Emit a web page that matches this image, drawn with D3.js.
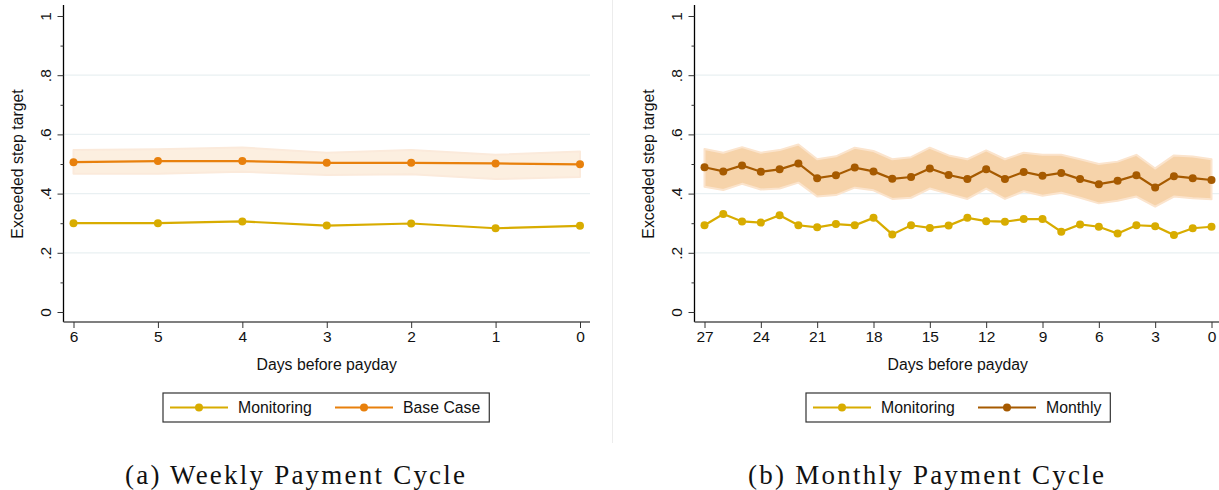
<!DOCTYPE html>
<meta charset="utf-8">
<style>
  body { margin: 0; background: #fff; }
  text { font-family: "Liberation Sans", Arial, sans-serif; fill: #111; }
  .caption { font-family: "Liberation Serif", "DejaVu Serif", serif; font-size: 27px; }
</style>
<body>
<script src="https://d3js.org/d3.v7.min.js"></script>
<script>
// ---- data ----
var weeklyDays = [6, 5, 4, 3, 2, 1, 0];
var weeklyMonitoring = [0.300, 0.300, 0.306, 0.292, 0.299, 0.283, 0.291];
var weeklyBase = [0.506, 0.510, 0.510, 0.504, 0.504, 0.502, 0.499];
var weeklyBaseHi = [0.547, 0.550, 0.556, 0.538, 0.547, 0.531, 0.542];
var weeklyBaseLo = [0.467, 0.467, 0.474, 0.463, 0.465, 0.449, 0.456];

var monthlyDays = [27, 26, 25, 24, 23, 22, 21, 20, 19, 18, 17, 16, 15, 14,
                   13, 12, 11, 10, 9, 8, 7, 6, 5, 4, 3, 2, 1, 0];
var monthlyMonitoring = [0.293, 0.331, 0.306, 0.302, 0.327, 0.293, 0.286, 0.297, 0.293, 0.318,
                         0.262, 0.293, 0.284, 0.292, 0.318, 0.307, 0.305, 0.314, 0.314, 0.271,
                         0.296, 0.288, 0.265, 0.293, 0.290, 0.260, 0.283, 0.288];
var monthlyMonthly = [0.489, 0.475, 0.495, 0.474, 0.482, 0.502, 0.452, 0.462, 0.488, 0.475,
                      0.450, 0.456, 0.485, 0.463, 0.449, 0.482, 0.449, 0.473, 0.460, 0.470,
                      0.449, 0.432, 0.443, 0.462, 0.421, 0.459, 0.452, 0.446];
var monthlyHi = [0.551, 0.538, 0.557, 0.538, 0.547, 0.566, 0.516, 0.526, 0.555, 0.544,
                 0.516, 0.523, 0.555, 0.529, 0.516, 0.546, 0.516, 0.538, 0.531, 0.531,
                 0.516, 0.500, 0.508, 0.531, 0.485, 0.529, 0.525, 0.516];
var monthlyLo = [0.423, 0.412, 0.433, 0.414, 0.417, 0.437, 0.390, 0.395, 0.420, 0.411,
                 0.382, 0.386, 0.417, 0.399, 0.382, 0.417, 0.382, 0.408, 0.393, 0.403,
                 0.386, 0.367, 0.376, 0.390, 0.356, 0.390, 0.384, 0.381];

var yTicks = [0, 0.2, 0.4, 0.6, 0.8, 1];
var weeklyTicks = [6, 5, 4, 3, 2, 1, 0];
var monthlyTicks = [27, 24, 21, 18, 15, 12, 9, 6, 3, 0];

var colMonitor = "#d8ac00";

var svg = d3.select("body").append("svg")
  .attr("width", 1219)
  .attr("height", 490);

// thin separator between the two sub-figures
svg.append("line")
  .attr("x1", 612.5).attr("x2", 612.5)
  .attr("y1", 0).attr("y2", 443)
  .attr("stroke", "#ececec");

function panel(o) {
  var g = svg.append("g");

  var x = d3.scaleLinear().domain([o.days[0], 0]).range([o.x0, o.x1]);
  var y = d3.scaleLinear().domain([0, 1]).range([312, 16]);

  // grid lines
  g.selectAll(".grid").data([0.2, 0.4, 0.6, 0.8]).enter().append("line")
    .attr("x1", o.axisX).attr("x2", o.axisEnd)
    .attr("y1", function(d) { return y(d); })
    .attr("y2", function(d) { return y(d); })
    .attr("stroke", "#e9f0f2").attr("stroke-width", 1.2);

  // y axis
  var yAxis = g.append("g")
    .attr("transform", "translate(" + o.axisX + ",0)")
    .call(d3.axisLeft(y).tickValues(yTicks).tickSize(6)
      .tickFormat(function(d) { return d === 0 || d === 1 ? String(d) : d3.format(".1f")(d).replace(/^0/, ""); }));
  yAxis.select(".domain").attr("d", "M0,5V322").attr("stroke", "#000").attr("stroke-width", 1.3);
  yAxis.selectAll(".tick line").attr("stroke", "#333");
  yAxis.selectAll(".tick text")
    .attr("x", null).attr("dy", null)
    .attr("transform", "translate(-18,0) rotate(-90)")
    .attr("text-anchor", "middle")
    .attr("dominant-baseline", "central")
    .style("font-size", "15.5px");
  // minor ticks
  g.append("g")
    .attr("transform", "translate(" + o.axisX + ",0)")
    .call(d3.axisLeft(y).tickValues([0.1, 0.3, 0.5, 0.7, 0.9]).tickSize(3).tickFormat(""))
    .call(function(s) { s.select(".domain").remove(); s.selectAll("line").attr("stroke", "#333"); });

  // x axis
  var xAxis = g.append("g")
    .attr("transform", "translate(0,322)")
    .call(d3.axisBottom(x).tickValues(o.ticks).tickSize(6).tickPadding(3).tickFormat(d3.format("d")));
  xAxis.select(".domain").attr("d", "M" + o.axisX + ",0H" + o.axisEnd).attr("stroke", "#555").attr("stroke-width", 1.3);
  xAxis.selectAll(".tick line").attr("stroke", "#333");
  xAxis.selectAll(".tick text").style("font-size", "15.5px");

  // axis titles
  g.append("text")
    .attr("transform", "translate(" + (o.axisX - 46) + "," + y(0.5) + ") rotate(-90)")
    .attr("text-anchor", "middle").attr("dominant-baseline", "central")
    .style("font-size", "15.8px")
    .text("Exceeded step target");
  g.append("text")
    .attr("x", (o.axisX + o.axisEnd) / 2).attr("y", 370)
    .attr("text-anchor", "middle")
    .style("font-size", "15.8px")
    .text("Days before payday");

  // confidence band
  var band = d3.area()
    .x(function(d, i) { return x(o.days[i]); })
    .y0(function(d, i) { return y(o.lo[i]); })
    .y1(function(d, i) { return y(o.hi[i]); });
  g.append("path")
    .datum(o.hi)
    .attr("d", band)
    .attr("fill", o.bandFill)
    .attr("stroke", o.bandEdge)
    .attr("stroke-width", 2)
    .attr("stroke-linejoin", "round");

  var line = d3.line()
    .x(function(d, i) { return x(o.days[i]); })
    .y(function(d) { return y(d); });

  [[o.monitor, colMonitor], [o.treat, o.treatColor]].forEach(function(s) {
    g.append("path")
      .datum(s[0])
      .attr("d", line)
      .attr("fill", "none")
      .attr("stroke", s[1])
      .attr("stroke-width", 2.2);
    g.selectAll(null).data(s[0]).enter().append("circle")
      .attr("cx", function(d, i) { return x(o.days[i]); })
      .attr("cy", function(d) { return y(d); })
      .attr("r", 4)
      .attr("fill", s[1]);
  });

  // legend
  var lg = g.append("g").attr("transform", "translate(" + o.legendX + ",393)");
  var box = lg.append("rect")
    .attr("width", 300).attr("height", 29)
    .attr("fill", "#fff").attr("stroke", "#333").attr("stroke-width", 1.2);
  var items = [["Monitoring", colMonitor, 7], [o.treatName, o.treatColor, 172]];
  var endX = 0;
  items.forEach(function(it) {
    lg.append("line")
      .attr("x1", it[2]).attr("x2", it[2] + 58)
      .attr("y1", 14.5).attr("y2", 14.5)
      .attr("stroke", it[1]).attr("stroke-width", 2.2);
    lg.append("circle")
      .attr("cx", it[2] + 29).attr("cy", 14.5).attr("r", 4)
      .attr("fill", it[1]);
    var t = lg.append("text")
      .attr("x", it[2] + 68).attr("y", 14.5)
      .attr("dominant-baseline", "central")
      .style("font-size", "15.8px")
      .text(it[0]);
    endX = it[2] + 68 + t.node().getComputedTextLength();
  });
  box.attr("width", endX + 9);

  // caption
  svg.append("text")
    .attr("class", "caption")
    .attr("x", o.captionX).attr("y", 484)
    .attr("text-anchor", "middle")
    .attr("textLength", o.captionW)
    .attr("lengthAdjust", "spacing")
    .text(o.caption);
}

panel({
  days: weeklyDays, ticks: weeklyTicks,
  monitor: weeklyMonitoring, treat: weeklyBase, hi: weeklyBaseHi, lo: weeklyBaseLo,
  x0: 73.5, x1: 580, axisX: 63.5, axisEnd: 590,
  treatColor: "#e8800c", treatName: "Base Case",
  bandFill: "#fcefe0", bandEdge: "#fbeadb",
  legendX: 163, captionX: 295, captionW: 340, caption: "(a) Weekly Payment Cycle"
});

panel({
  days: monthlyDays, ticks: monthlyTicks,
  monitor: monthlyMonitoring, treat: monthlyMonthly, hi: monthlyHi, lo: monthlyLo,
  x0: 704.5, x1: 1211.5, axisX: 694.5, axisEnd: 1221,
  treatColor: "#a65a00", treatName: "Monthly",
  bandFill: "#f6d3aa", bandEdge: "#fbe4cd",
  legendX: 806, captionX: 926, captionW: 356, caption: "(b) Monthly Payment Cycle"
});
</script>
</body>
